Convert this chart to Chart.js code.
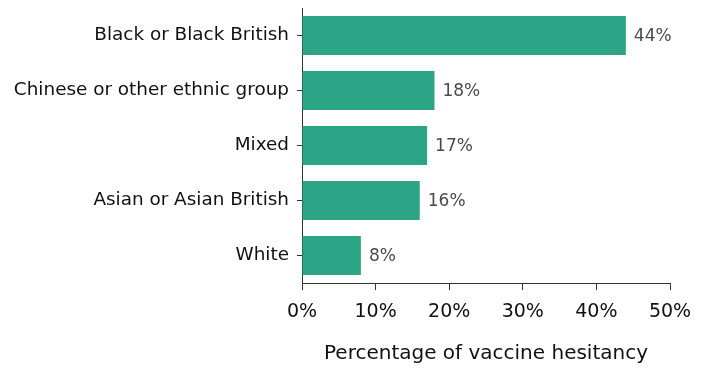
<!DOCTYPE html>
<html>
<head>
<meta charset="utf-8">
<script src="https://cdn.jsdelivr.net/npm/chart.js@4"></script>
<style>
  html, body { margin: 0; padding: 0; background: #fff; }
  #wrap { width: 703px; height: 374px; }
</style>
</head>
<body>
<div id="wrap"><canvas id="chart"></canvas></div>
<script>
// Datos de la gráfica
const categories = ['Black or Black British', 'Chinese or other ethnic group', 'Mixed', 'Asian or Asian British', 'White'];
const hesitancy = [44, 18, 17, 16, 8];
const xTicks = [0, 10, 20, 30, 40, 50];

const FONT = "'DejaVu Sans', sans-serif";

// Etiquetas de valor al final de cada barra
const valueLabels = {
  id: 'valueLabels',
  afterDatasetsDraw(chart) {
    const ctx = chart.ctx;
    const meta = chart.getDatasetMeta(0);
    ctx.save();
    ctx.font = '17px ' + FONT;
    ctx.fillStyle = '#4a4a4a';
    ctx.textAlign = 'left';
    ctx.textBaseline = 'middle';
    meta.data.forEach((bar, i) => {
      ctx.fillText(hesitancy[i] + '%', bar.x + 8, bar.y + 1);
    });
    ctx.restore();
  }
};

new Chart(document.getElementById('chart'), {
  type: 'bar',
  data: {
    labels: categories,
    datasets: [{
      data: hesitancy,
      backgroundColor: '#2ca586',
      barPercentage: 0.71,
      categoryPercentage: 1
    }]
  },
  options: {
    indexAxis: 'y',
    responsive: true,
    maintainAspectRatio: false,
    animation: false,
    layout: { padding: { top: 8, right: 33, left: 0, bottom: 0 } },
    plugins: {
      legend: { display: false },
      tooltip: { enabled: false }
    },
    scales: {
      x: {
        min: 0,
        max: 50,
        afterBuildTicks(scale) { scale.ticks = xTicks.map(v => ({ value: v })); },
        afterFit(scale) { scale.height = 91; },
        grid: { display: true, drawOnChartArea: false, drawTicks: true, tickLength: 7, color: '#333' },
        border: { display: true, color: '#333', width: 1 },
        ticks: {
          color: '#111',
          font: { family: FONT, size: 19 },
          padding: 11,
          callback: v => v + '%'
        },
        title: {
          display: true,
          text: 'Percentage of vaccine hesitancy',
          color: '#111',
          font: { family: FONT, size: 20 },
          padding: { top: 0, bottom: 8 }
        }
      },
      y: {
        afterFit(scale) {
          scale.width = 302;
          scale.paddingTop = 0;
          scale.paddingBottom = 0;
        },
        grid: { display: true, drawOnChartArea: false, offset: false, tickLength: 5, color: '#333' },
        border: { display: true, color: '#333', width: 1 },
        ticks: {
          color: '#111',
          font: { family: FONT, size: 18.4 },
          padding: 8
        }
      }
    }
  },
  plugins: [valueLabels]
});
</script>
</body>
</html>
